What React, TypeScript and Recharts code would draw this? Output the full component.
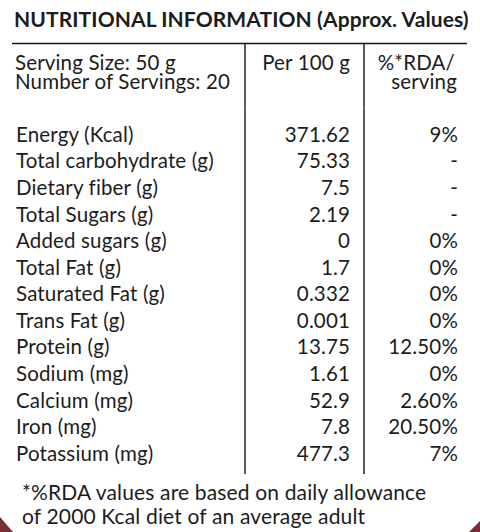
import React from 'react';
import {
  ComposedChart, Bar, XAxis, YAxis, ReferenceLine, LabelList,
} from 'recharts';

const nutrients = [
  'Energy (Kcal)', 'Total carbohydrate (g)', 'Dietary fiber (g)', 'Total Sugars (g)',
  'Added sugars (g)', 'Total Fat (g)', 'Saturated Fat (g)', 'Trans Fat (g)',
  'Protein (g)', 'Sodium (mg)', 'Calcium (mg)', 'Iron (mg)', 'Potassium (mg)',
];
const per100g = [
  '371.62', '75.33', '7.5', '2.19', '0', '1.7', '0.332', '0.001',
  '13.75', '1.61', '52.9', '7.8', '477.3',
];
const rdaPerServing = [
  '9%', '-', '-', '-', '0%', '0%', '0%', '0%',
  '12.50%', '0%', '2.60%', '20.50%', '7%',
];
const servingLines = ['Serving Size: 50 g', 'Number of Servings: 20'];
const footnoteLines = [
  '*%RDA values are based on daily allowance',
  'of 2000 Kcal diet of an average adult',
];

// column widths of the table, in px of the plot area
const NAME_W = 233;
const PER_W = 119;
const RDA_W = 103;
const TOTAL_W = NAME_W + PER_W + RDA_W;

const FONT = 'Lato, "Open Sans", sans-serif';
const FS = 20.5;
const LS = 0.15;
const INK = '#1c1c1c';
const RULE = '#161616';

const rows = nutrients.map((name, i) => ({
  name,
  per100: per100g[i],
  rda: rdaPerServing[i],
  nameCol: NAME_W,
  perCol: PER_W,
  rdaCol: RDA_W,
}));

function Overlay() {
  return (
    <svg
      width={480}
      height={532}
      style={{ position: 'absolute', left: 0, top: 0, pointerEvents: 'none' }}
    >
      <g fontFamily={FONT} fill={INK} letterSpacing={LS}>
        <text x={14} y={27} fontSize={21} fontWeight={700} letterSpacing={0.1}>
          NUTRITIONAL INFORMATION (Approx. Values)
        </text>
        <text x={15} y={69.5} fontSize={FS}>{servingLines[0]}</text>
        <text x={15} y={89} fontSize={FS}>{servingLines[1]}</text>
        <text x={350} y={69.5} fontSize={FS} textAnchor="end">Per 100 g</text>
        <text x={455} y={69.5} fontSize={FS} textAnchor="end">%*RDA/</text>
        <text x={457} y={89} fontSize={FS} textAnchor="end">serving</text>
        <text x={22} y={500} fontSize={21}>{footnoteLines[0]}</text>
        <text x={22} y={523.5} fontSize={21}>{footnoteLines[1]}</text>
      </g>
      <g stroke={RULE} strokeWidth={1.4}>
        <line x1={12} x2={467} y1={43.5} y2={43.5} />
        <line x1={245} x2={245} y1={43.5} y2={108.5} />
        <line x1={364} x2={364} y1={43.5} y2={108.5} />
      </g>
      <polygon points="0,517 0,532 13,532" fill="#7b2c36" />
      <polygon points="480,521 480,532 469,532" fill="#7b2c36" />
    </svg>
  );
}

export default function App() {
  return (
    <div style={{ position: 'absolute', left: 0, top: 0, width: 480, height: 532, background: '#fff' }}>
      <ComposedChart
        width={480}
        height={532}
        layout="vertical"
        data={rows}
        margin={{ top: 108.5, right: 13, bottom: 58, left: 12 }}
        barCategoryGap={0}
      >
        <XAxis
          type="number"
          domain={[0, TOTAL_W]}
          orientation="bottom"
          height={0}
          tick={false}
          tickLine={false}
          axisLine={{ stroke: RULE, strokeWidth: 1.4 }}
        />
        <XAxis
          xAxisId="top"
          type="number"
          domain={[0, TOTAL_W]}
          orientation="top"
          height={0}
          tick={false}
          tickLine={false}
          axisLine={{ stroke: RULE, strokeWidth: 1.4 }}
        />
        <YAxis type="category" dataKey="name" hide padding={{ top: 12.5, bottom: 7.5 }} />
        <ReferenceLine x={NAME_W} stroke={RULE} strokeWidth={1.4} />
        <ReferenceLine x={NAME_W + PER_W} stroke={RULE} strokeWidth={1.4} />
        <Bar dataKey="nameCol" stackId="cols" fill="transparent" isAnimationActive={false}>
          <LabelList
            dataKey="name"
            position="insideLeft"
            offset={4}
            fill={INK}
            fontSize={FS}
            fontFamily={FONT}
            letterSpacing={LS}
          />
        </Bar>
        <Bar dataKey="perCol" stackId="cols" fill="transparent" isAnimationActive={false}>
          <LabelList
            dataKey="per100"
            position="insideRight"
            offset={14}
            fill={INK}
            fontSize={FS}
            fontFamily={FONT}
            letterSpacing={LS}
          />
        </Bar>
        <Bar dataKey="rdaCol" stackId="cols" fill="transparent" isAnimationActive={false}>
          <LabelList
            dataKey="rda"
            position="insideRight"
            offset={9}
            fill={INK}
            fontSize={FS}
            fontFamily={FONT}
            letterSpacing={LS}
          />
        </Bar>
      </ComposedChart>
      <Overlay />
    </div>
  );
}
